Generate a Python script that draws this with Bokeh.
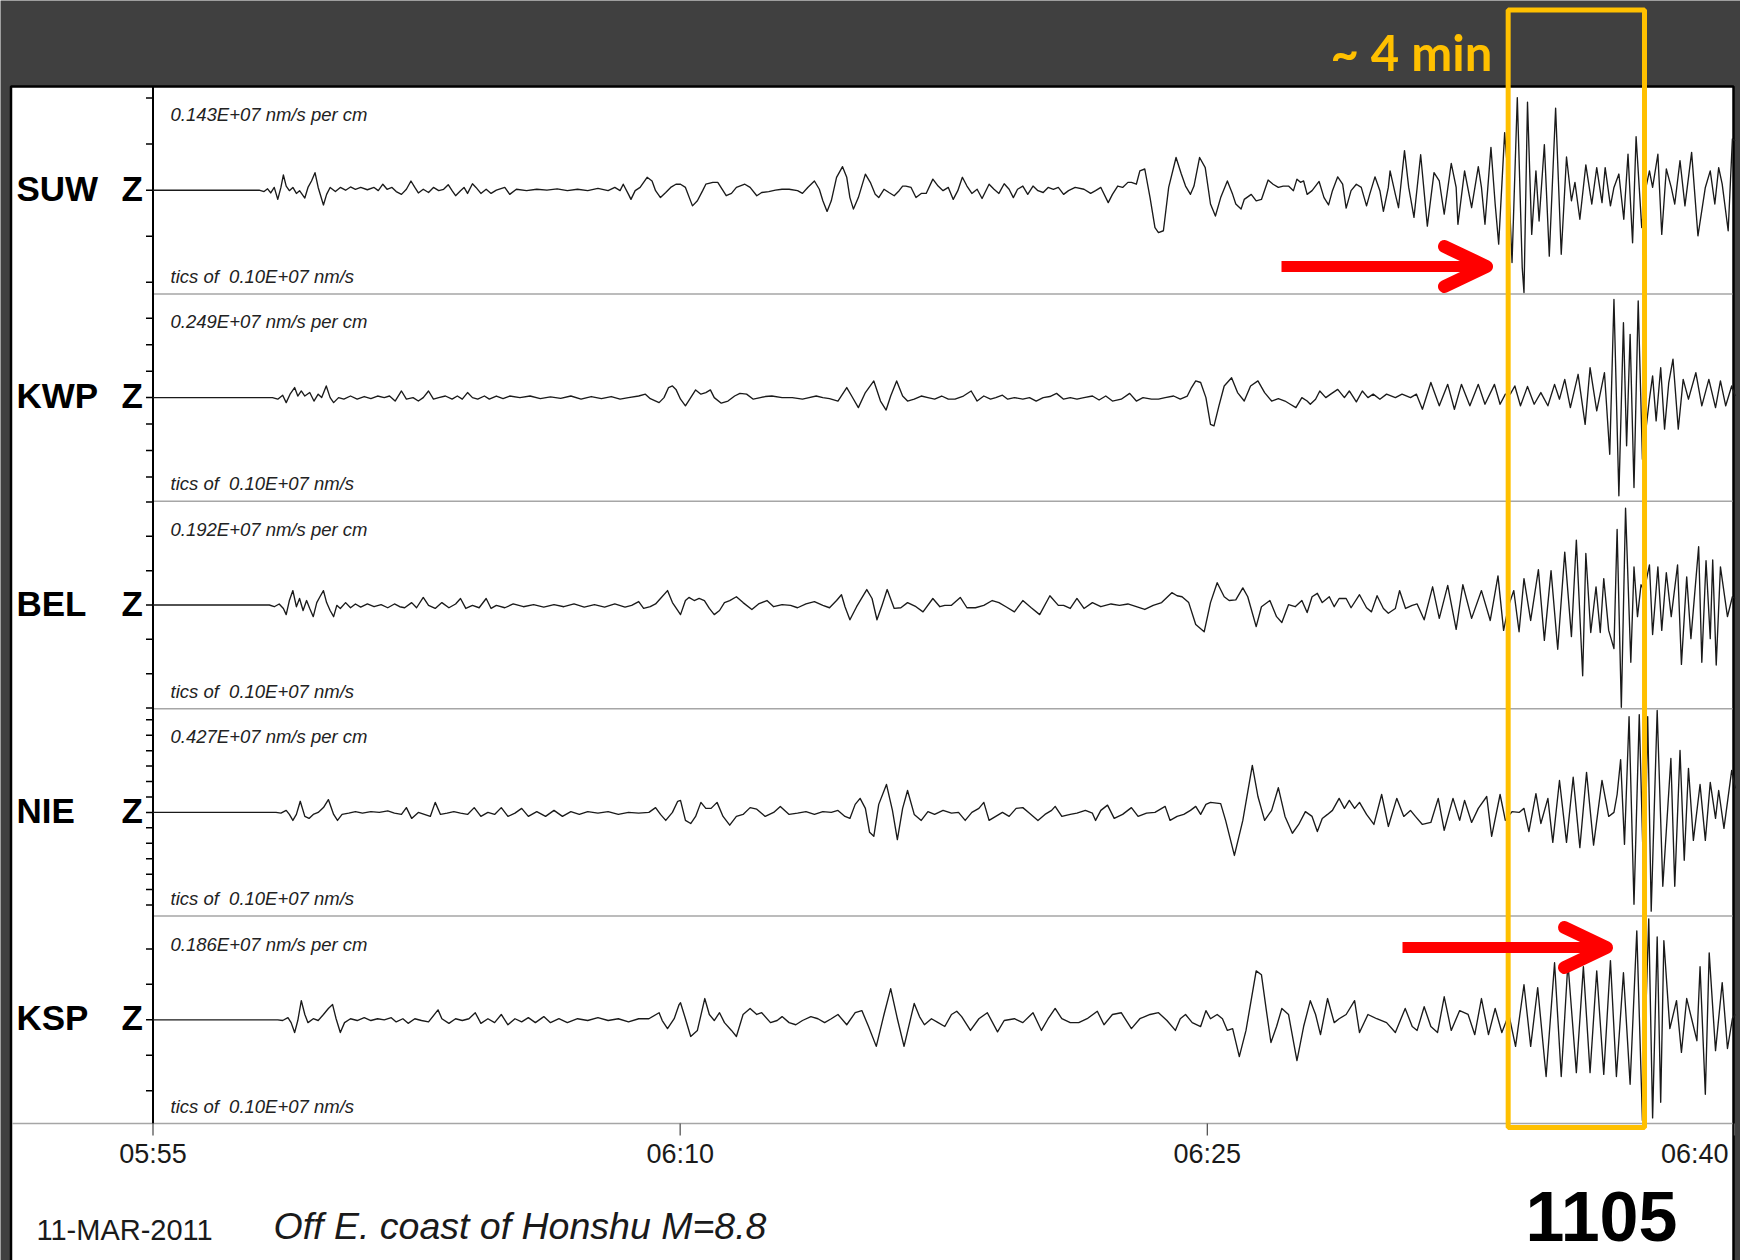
from bokeh.plotting import figure
from bokeh.models import Range1d
from bokeh.core.properties import value
from bokeh.embed import file_html
from bokeh.resources import INLINE

# ---------------------------------------------------------------- data
STATIONS = ["SUW", "KWP", "BEL", "NIE", "KSP"]
COMPONENT = "Z"
SCALE_NM_S_PER_CM = [0.143e7, 0.249e7, 0.192e7, 0.427e7, 0.186e7]
TIC_NM_S = 0.10e7
TIME_TICKS_MIN = [0, 15, 30, 45]            # minutes after 05:55
TIME_TICK_LABELS = ["05:55", "06:10", "06:25", "06:40"]
DATE_LABEL = "11-MAR-2011"
EVENT_LABEL = "Off E. coast of Honshu M=8.8"
EVENT_NUMBER = "1105"
WINDOW_MIN = [38.56, 42.44]                 # highlighted window (minutes after 05:55)
WINDOW_LABEL = "~ 4 min"

# traces: (minutes after 05:55, ground velocity in units of 1e6 nm/s)
SUW = [(0, 0),
    (3.02, 0), (3.16, -0.03), (3.26, 0.03), (3.35, -0.06), (3.45, 0.06), (3.55, -0.20), (3.64, 0.06), (3.71, 0.33),
    (3.79, 0.09), (3.88, -0.01), (3.98, 0.06), (4.08, -0.07), (4.17, -0.01), (4.32, -0.17), (4.41, 0.06), (4.51, 0.20),
    (4.61, 0.38), (4.70, 0.06), (4.85, -0.32), (4.94, -0.09), (5.04, 0.06), (5.19, -0.03), (5.33, 0.06), (5.48, 0),
    (5.62, 0.07), (5.76, 0.02), (5.91, 0.06), (6.10, 0.01), (6.29, 0.06), (6.41, -0.01), (6.54, 0.13), (6.66, 0.02),
    (6.80, 0.06), (6.92, -0.03), (7.07, -0.09), (7.21, 0.02), (7.34, 0.20), (7.45, 0.06), (7.55, -0.06), (7.69, 0.02),
    (7.84, -0.05), (7.98, 0.06), (8.13, -0.01), (8.27, 0.02), (8.40, 0.12), (8.51, -0.01), (8.61, -0.12), (8.75, -0.01),
    (8.85, 0.06), (8.95, -0.07), (9.09, 0.14), (9.19, 0.06), (9.33, -0.07), (9.48, 0.02), (9.62, -0.07), (9.77, 0),
    (10.01, 0.06), (10.15, -0.09), (10.34, 0.02), (10.63, -0.01), (10.92, 0.02), (11.21, 0), (11.50, 0.03),
    (11.79, -0.01), (12.08, 0.02), (12.37, -0.01), (12.66, 0.04), (12.95, -0.01), (13.14, 0.06), (13.29, -0.01),
    (13.38, 0.13), (13.53, -0.09), (13.60, -0.20), (13.72, -0.01), (13.86, 0.06), (14.06, 0.28), (14.20, 0.20),
    (14.30, -0.01), (14.44, -0.16), (14.59, -0.05), (14.73, 0.06), (14.88, 0.13),
    (15.01, 0.13), (15.15, 0.06), (15.35, -0.34), (15.49, -0.23), (15.64, -0.01), (15.73, 0.13), (15.93, 0.17),
    (16.07, 0.17), (16.22, -0.01), (16.31, -0.12), (16.46, -0.07), (16.60, 0.06), (16.84, 0.13), (16.99, 0.06),
    (17.18, -0.12), (17.32, -0.05), (17.52, -0.03), (17.71, 0), (17.90, 0.02), (18.10, 0.02), (18.34, -0.01),
    (18.48, -0.07), (18.63, 0.06), (18.82, 0.20), (18.96, 0.02), (19.06, -0.23), (19.18, -0.46), (19.30, -0.23),
    (19.45, 0.28), (19.62, 0.51), (19.74, 0.28), (19.83, -0.16), (19.93, -0.41), (20.07, -0.16), (20.27, 0.35),
    (20.41, 0.17), (20.55, -0.09), (20.65, -0.16), (20.80, 0.02), (20.94, -0.05), (21.09, -0.12), (21.23, -0.01),
    (21.33, 0.09), (21.42, 0.09), (21.57, 0.06), (21.71, -0.16), (21.86, -0.07), (22.00, -0.07), (22.19, 0.24),
    (22.34, 0.09), (22.48, -0.01), (22.63, 0.06), (22.77, -0.20), (22.90, -0.01), (23.03, 0.28), (23.16, 0.09),
    (23.30, -0.07), (23.45, 0.02), (23.59, -0.18), (23.79, 0.13), (23.93, 0.02), (24.07, -0.07), (24.22, 0.14),
    (24.36, 0.02), (24.48, -0.16), (24.60, 0.02), (24.75, 0.09), (24.89, -0.09), (25.04, 0.09), (25.18, -0.01),
    (25.33, -0.05), (25.47, 0.06), (25.62, 0.02), (25.76, 0.06), (25.91, -0.09), (26.05, -0.01), (26.24, 0.06),
    (26.49, 0.02), (26.68, -0.07), (26.82, -0.01), (26.97, 0.06), (27.18, -0.27), (27.30, -0.09), (27.45, 0.09),
    (27.59, 0.06), (27.74, 0.17), (27.84, 0.17), (27.98, 0.13), (28.08, 0.42), (28.22, 0.46), (28.37, -0.16),
    (28.51, -0.81), (28.61, -0.92), (28.75, -0.88), (28.90, 0.06), (29.11, 0.71), (29.26, 0.35), (29.38, 0.09),
    (29.52, -0.09), (29.62, 0.09), (29.78, 0.71), (29.94, 0.49),
    (30.09, -0.30), (30.23, -0.56), (30.38, -0.16), (30.57, 0.20), (30.72, -0.09), (30.81, -0.30), (30.96, -0.41),
    (31.05, -0.20), (31.25, -0.09), (31.39, -0.23), (31.54, -0.20), (31.73, 0.22), (31.87, 0.13), (32.02, 0.06),
    (32.16, 0.09), (32.31, 0.09), (32.45, -0.01), (32.55, 0.24), (32.65, 0.17), (32.74, 0.20), (32.84, -0.09),
    (32.98, -0.01), (33.18, 0.19), (33.32, -0.16), (33.45, -0.32), (33.56, -0.01), (33.71, 0.29), (33.85, 0.13),
    (33.95, -0.39), (34.09, -0.01), (34.24, 0.13), (34.38, 0.06), (34.53, -0.34), (34.62, -0.09), (34.77, 0.29),
    (34.91, -0.01), (35.01, -0.46), (35.15, 0.06), (35.20, 0.42), (35.35, -0.09), (35.44, -0.38), (35.61, 0.86),
    (35.73, 0.06), (35.88, -0.59), (36.07, 0.77), (36.26, -0.78), (36.45, 0.38), (36.60, 0.20), (36.74, -0.52),
    (36.94, 0.58), (37.08, 0.06), (37.13, -0.74), (37.32, 0.42), (37.52, -0.38), (37.71, 0.51), (37.80, 0.06),
    (37.90, -0.74), (38.07, 0.93), (38.19, -0.30), (38.29, -1.17), (38.46, 1.25), (38.58, 0.06), (38.67, -1.57),
    (38.82, 2.01), (38.96, -1.68), (39.01, -2.22), (39.11, 1.91), (39.23, -0.96), (39.35, 0.42), (39.44, -0.67),
    (39.59, 0.99), (39.73, -1.43), (39.91, 1.78), (40.07, -1.39), (40.22, 0.72), (40.36, -0.23), (40.46, 0.17),
    (40.60, -0.63), (40.77, 0.55), (40.94, -0.30), (41.08, 0.49), (41.23, -0.27), (41.32, 0.49), (41.47, -0.34),
    (41.57, 0.06), (41.71, 0.35), (41.85, -0.63), (41.97, 0.78), (42.10, -1.14), (42.20, 1.16), (42.36, -0.81),
    (42.48, 0.06), (42.58, 0.42), (42.67, 0.06), (42.82, 0.78), (42.93, -0.96), (43.06, 0.46), (43.20, 0.06),
    (43.30, -0.30), (43.45, 0.64), (43.59, -0.34), (43.78, 0.82), (43.96, -0.99), (44.17, 0.06), (44.31, 0.42),
    (44.44, -0.30), (44.55, 0.49), (44.65, 0.13), (44.82, -0.88), (44.94, 1.11), (45.02, 1.07)]

KWP = [(0, 0),
    (3.40, 0), (3.55, -0.06), (3.69, 0.09), (3.79, -0.19), (3.90, 0.13), (4.03, 0.38), (4.12, 0.06), (4.22, 0.25),
    (4.32, 0.06), (4.46, 0.19), (4.58, -0.13), (4.70, 0.13), (4.80, 0), (4.93, 0.44), (5.04, 0), (5.14, -0.19),
    (5.28, 0), (5.43, -0.06), (5.62, 0.06), (5.81, -0.06), (6.01, 0.04), (6.20, -0.04), (6.39, 0.06), (6.58, 0),
    (6.73, 0.06), (6.89, -0.13), (7.07, 0.25), (7.21, -0.06), (7.40, 0), (7.55, -0.13), (7.69, 0), (7.84, 0.25),
    (7.98, -0.06), (8.13, 0), (8.32, 0.06), (8.51, -0.06), (8.66, 0.06), (8.80, -0.06), (8.95, 0.19), (9.09, 0),
    (9.24, -0.06), (9.43, 0.06), (9.57, -0.06), (9.77, 0.06), (9.96, -0.04), (10.15, 0.06), (10.44, 0),
    (10.73, 0.06), (11.02, -0.04), (11.31, 0.03), (11.60, -0.03), (11.89, 0.06), (12.18, -0.06), (12.47, 0.04),
    (12.76, -0.04), (13.04, 0.04), (13.29, -0.06), (13.53, 0), (13.82, 0.06), (14.01, 0.13), (14.15, -0.04),
    (14.40, -0.19), (14.54, 0), (14.67, 0.38), (14.78, 0.44), (14.88, 0.31),
    (15.01, -0.06), (15.15, -0.31), (15.30, 0), (15.44, 0.29), (15.59, 0.13), (15.73, 0.19), (15.86, 0.29),
    (15.97, 0), (16.17, -0.21), (16.36, -0.13), (16.55, 0.06), (16.70, 0.16), (16.89, 0.13), (17.08, -0.06),
    (17.28, 0), (17.42, 0.04), (17.61, 0.06), (17.90, 0), (18.19, 0), (18.48, -0.06), (18.67, 0), (18.87, 0.06),
    (19.06, 0), (19.25, -0.04), (19.49, -0.13), (19.74, 0.38), (19.88, 0.06), (20.07, -0.38), (20.27, 0.19),
    (20.51, 0.63), (20.70, -0.13), (20.86, -0.47), (20.99, 0.06), (21.16, 0.63), (21.33, 0.06), (21.47, -0.13),
    (21.66, -0.06), (21.86, 0.06), (22.05, 0), (22.24, -0.06), (22.44, 0.06), (22.63, -0.06), (22.82, -0.06),
    (23.06, 0.06), (23.28, 0.25), (23.45, -0.13), (23.64, 0.06), (23.83, -0.06), (23.98, 0), (24.17, 0.09),
    (24.32, -0.06), (24.51, 0), (24.75, -0.06), (24.94, 0), (25.13, -0.13), (25.33, 0), (25.52, 0.04),
    (25.71, 0.16), (25.91, -0.06), (26.10, 0), (26.29, -0.06), (26.49, 0), (26.73, 0.06), (26.92, -0.09),
    (27.11, 0.06), (27.30, -0.13), (27.55, -0.06), (27.79, 0.16), (27.98, -0.13), (28.17, 0), (28.41, -0.06),
    (28.61, -0.06), (28.80, 0), (29.04, 0.06), (29.23, -0.06), (29.43, 0.06), (29.55, 0.38), (29.67, 0.63),
    (29.81, 0.57), (29.96, 0),
    (30.09, -1.01), (30.19, -1.07), (30.33, -0.31), (30.48, 0.44), (30.69, 0.75), (30.86, 0.19), (31.05, -0.13),
    (31.23, 0.44), (31.44, 0.63), (31.63, 0.19), (31.83, -0.13), (32.02, -0.04), (32.21, -0.13), (32.36, -0.25),
    (32.52, -0.38), (32.69, 0), (32.84, -0.13), (32.93, -0.25), (33.08, -0.06), (33.20, 0.25), (33.37, 0),
    (33.51, 0.13), (33.71, 0.31), (33.90, 0), (34.04, 0.25), (34.24, -0.16), (34.41, 0.25), (34.57, 0),
    (34.72, 0.13), (34.91, -0.06), (35.10, 0.13), (35.35, 0), (35.54, 0.13), (35.78, 0), (35.95, 0.13),
    (36.12, -0.44), (36.36, 0.57), (36.60, -0.31), (36.84, 0.50), (37.03, -0.44), (37.23, 0.50), (37.47, -0.31),
    (37.71, 0.50), (37.90, -0.25), (38.17, 0.50), (38.33, -0.25), (38.48, 0.13), (38.62, 0.13), (38.75, 0.44),
    (38.91, -0.31), (39.11, 0.42), (39.30, -0.25), (39.49, 0.19), (39.69, -0.31), (39.88, 0.50), (40.02, -0.06),
    (40.17, 0.69), (40.33, -0.38), (40.55, 0.88), (40.75, -1.01), (40.89, 1.13), (41.08, -0.50), (41.30, 0.94),
    (41.45, -2.14), (41.57, 3.71), (41.71, -3.71), (41.84, 2.83), (41.93, -1.82), (42.03, 2.39), (42.14, -3.40),
    (42.26, 3.65), (42.38, -2.33), (42.58, -0.06), (42.67, 0.82), (42.77, -0.88), (42.90, 1.13), (43.01, -1.19),
    (43.13, 0.57), (43.25, 1.45), (43.40, -1.19), (43.54, 0.69), (43.69, -0.06), (43.90, 0.94), (44.07, -0.31),
    (44.27, 0.69), (44.46, -0.38), (44.60, 0.63), (44.75, -0.31), (44.92, 0.44), (45.02, 0.06)]

BEL = [(0, 0),
    (3.31, 0), (3.45, -0.05), (3.59, 0.03), (3.71, -0.10), (3.79, -0.28), (3.88, 0.13), (3.98, 0.42), (4.08, -0.05),
    (4.17, 0.19), (4.27, -0.16), (4.37, 0.13), (4.46, -0.10), (4.56, -0.34), (4.66, 0.07), (4.75, 0.24), (4.85, 0.42),
    (4.94, 0.07), (5.04, -0.16), (5.14, -0.34), (5.23, -0.01), (5.33, -0.10), (5.48, 0.07), (5.62, -0.08),
    (5.76, 0.03), (5.91, -0.06), (6.10, 0.03), (6.29, -0.05), (6.49, 0.01), (6.68, -0.08), (6.87, 0.03),
    (7.02, -0.05), (7.16, -0.08), (7.36, 0.07), (7.50, -0.08), (7.69, 0.22), (7.84, -0.01), (8.03, -0.10),
    (8.22, 0.07), (8.42, -0.08), (8.61, 0.03), (8.75, 0.19), (8.90, -0.10), (9.09, -0.01), (9.28, -0.08),
    (9.48, 0.19), (9.62, -0.10), (9.77, -0.01), (10.01, -0.08), (10.25, 0.03), (10.54, -0.05), (10.83, 0.01),
    (11.12, -0.06), (11.41, 0.01), (11.69, -0.05), (11.98, 0.03), (12.27, -0.06), (12.56, 0.01), (12.85, -0.06),
    (13.14, 0.03), (13.43, -0.06), (13.62, -0.01), (13.82, 0.10), (13.96, -0.10), (14.15, -0.05), (14.30, 0.03),
    (14.44, 0.19), (14.64, 0.42), (14.78, 0.07), (14.93, -0.16),
    (15.01, -0.28), (15.15, 0.13), (15.25, 0.22), (15.40, 0.13), (15.54, 0.19), (15.69, 0.13), (15.83, -0.10),
    (15.97, -0.28), (16.12, -0.16), (16.26, 0.07), (16.41, 0.13), (16.60, 0.24), (16.79, 0.07), (17.04, -0.13),
    (17.23, 0.03), (17.47, 0.13), (17.66, -0.05), (17.90, 0.01), (18.14, -0.01), (18.34, -0.08), (18.58, 0.03),
    (18.82, 0.10), (19.06, -0.01), (19.25, -0.08), (19.45, 0.13), (19.59, 0.30), (19.69, -0.05), (19.83, -0.43),
    (20.02, -0.05), (20.31, 0.45), (20.46, 0.19), (20.60, -0.43), (20.75, 0.01), (20.89, 0.45), (21.09, -0.10),
    (21.28, -0.08), (21.47, 0.07), (21.71, -0.05), (21.91, -0.20), (22.19, 0.19), (22.39, -0.05), (22.53, -0.01),
    (22.72, -0.01), (22.97, 0.22), (23.16, -0.08), (23.40, -0.08), (23.64, -0.01), (23.88, 0.13), (24.07, 0.07),
    (24.27, -0.05), (24.51, -0.20), (24.75, 0.13), (24.99, -0.08), (25.23, -0.28), (25.52, 0.27), (25.76, -0.01),
    (25.91, -0.01), (26.10, -0.10), (26.29, 0.19), (26.49, -0.10), (26.73, 0.07), (26.97, -0.05), (27.26, 0.03),
    (27.50, -0.01), (27.74, 0.03), (27.98, -0.05), (28.22, -0.13), (28.46, -0.01), (28.70, 0.07), (28.99, 0.36),
    (29.14, 0.27), (29.28, 0.24), (29.47, 0.07), (29.67, -0.57), (29.91, -0.78),
    (30.09, 0.07), (30.28, 0.65), (30.48, 0.24), (30.62, 0.13), (30.81, 0.15), (31.01, 0.50), (31.15, 0.24),
    (31.39, -0.63), (31.54, -0.05), (31.78, 0.13), (31.97, -0.34), (32.12, -0.51), (32.31, 0.01), (32.50, -0.05),
    (32.69, 0.13), (32.84, -0.22), (32.98, 0.24), (33.13, 0.34), (33.27, 0.07), (33.47, 0.24), (33.61, -0.05),
    (33.75, 0.19), (33.95, 0.19), (34.09, -0.08), (34.33, 0.30), (34.53, -0.08), (34.67, -0.20), (34.83, 0.27),
    (35.01, -0.10), (35.15, -0.24), (35.35, -0.10), (35.47, 0.42), (35.64, -0.10), (35.83, -0.01), (35.97, 0.03),
    (36.17, -0.43), (36.41, 0.53), (36.60, -0.39), (36.84, 0.57), (37.08, -0.71), (37.27, 0.59), (37.52, -0.39),
    (37.80, 0.42), (38.05, -0.45), (38.27, 0.85), (38.43, -0.74), (38.58, 0.01), (38.72, 0.42), (38.87, -0.78),
    (39.01, 0.77), (39.20, -0.45), (39.42, 1.03), (39.59, -1.03), (39.78, 1.00), (39.97, -1.29), (40.17, 1.54),
    (40.36, -0.92), (40.50, 1.89), (40.68, -2.06), (40.77, 1.50), (40.91, -0.80), (41.06, 0.53), (41.18, -0.80),
    (41.28, 0.77), (41.42, -0.74), (41.57, -1.27), (41.66, 2.20), (41.78, -2.98), (41.90, 2.82), (42.05, -1.67),
    (42.14, 1.11), (42.24, -0.34), (42.34, 0.59), (42.43, 0.42), (42.58, 1.17), (42.67, -0.86), (42.82, 1.11),
    (42.93, -0.74), (43.06, 0.94), (43.20, -0.34), (43.38, 1.17), (43.49, -1.73), (43.64, 0.82), (43.76, -0.98),
    (43.98, 1.70), (44.07, -1.67), (44.19, 1.29), (44.31, -0.98), (44.38, 1.31), (44.48, -1.75), (44.60, 1.11),
    (44.80, -0.34), (44.94, 0.24), (45.02, 0.19)]

NIE = [(0, 0),
    (3.50, 0), (3.64, -0.05), (3.79, 0.13), (3.88, -0.13), (3.98, -0.52), (4.08, -0.13), (4.19, 0.72), (4.32, -0.26),
    (4.44, -0.39), (4.56, -0.13), (4.70, 0), (4.85, 0.31), (4.99, 0.83), (5.14, -0.13), (5.25, -0.52), (5.38, -0.13),
    (5.57, -0.05), (5.76, 0.05), (5.96, -0.05), (6.20, 0.05), (6.44, 0), (6.68, 0.10), (6.87, -0.05), (7.07, -0.13),
    (7.21, 0.31), (7.36, -0.39), (7.55, 0), (7.72, -0.13), (7.89, -0.26), (8.03, 0.65), (8.18, -0.13), (8.37, -0.05),
    (8.56, 0.05), (8.75, -0.05), (8.95, -0.13), (9.14, 0.31), (9.33, -0.26), (9.53, 0), (9.72, -0.13), (9.91, 0.31),
    (10.10, -0.26), (10.30, -0.05), (10.49, 0.26), (10.68, -0.26), (10.92, 0.05), (11.17, -0.26), (11.41, 0.13),
    (11.65, -0.26), (11.89, 0.05), (12.13, -0.13), (12.37, 0.05), (12.66, -0.05), (12.95, 0.05), (13.24, -0.13),
    (13.53, 0), (13.82, -0.05), (14.11, 0), (14.30, 0.31), (14.44, -0.13), (14.59, -0.52), (14.78, 0),
    (14.93, 0.72),
    (15.01, 0.78), (15.15, -0.52), (15.30, -0.72), (15.44, -0.26), (15.59, 0.65), (15.73, 0.26), (15.88, 0.26),
    (16.05, 0.65), (16.22, -0.26), (16.41, -0.83), (16.60, -0.26), (16.79, -0.13), (16.99, 0.31), (17.18, 0.21),
    (17.42, -0.26), (17.66, 0), (17.85, 0.39), (18.10, -0.13), (18.34, -0.05), (18.58, 0.05), (18.82, -0.13),
    (19.06, 0.05), (19.30, 0), (19.49, 0.13), (19.69, -0.26), (19.83, -0.39), (19.98, 0.52), (20.12, 0.91),
    (20.27, 0.26), (20.39, -1.29), (20.51, -1.55), (20.65, 0.52), (20.87, 1.81), (21.04, 0.13), (21.18, -1.76),
    (21.33, 0.26), (21.47, 1.42), (21.66, -0.13), (21.86, -0.52), (22.05, 0.05), (22.24, -0.13), (22.48, 0.13),
    (22.72, -0.05), (22.92, 0), (23.11, -0.52), (23.30, 0), (23.50, 0.26), (23.64, 0.65), (23.79, -0.52),
    (23.98, -0.26), (24.17, 0), (24.36, -0.26), (24.56, 0.26), (24.75, 0.31), (24.94, -0.05), (25.18, -0.52),
    (25.38, -0.13), (25.57, 0.13), (25.67, 0.39), (25.86, -0.26), (26.10, -0.13), (26.29, -0.05), (26.53, 0.13),
    (26.73, -0.05), (26.82, -0.52), (26.97, 0.13), (27.16, 0.47), (27.35, -0.39), (27.59, -0.13), (27.84, 0.31),
    (28.03, -0.26), (28.27, -0.05), (28.51, 0), (28.80, 0.39), (28.94, -0.52), (29.14, -0.26), (29.33, -0.13),
    (29.52, 0.13), (29.67, 0.39), (29.81, -0.13), (29.96, 0.52),
    (30.09, 0.65), (30.38, 0.57), (30.52, -0.52), (30.77, -2.79), (31.01, -0.52), (31.28, 3.05), (31.44, 1.03),
    (31.63, -0.52), (31.83, 0.13), (32.02, 1.60), (32.21, -0.26), (32.42, -1.35), (32.60, -0.78), (32.79, 0.05),
    (32.98, -0.26), (33.13, -1.24), (33.27, -0.39), (33.42, -0.13), (33.56, 0.13), (33.75, 0.91), (33.90, 0.26),
    (34.04, 0.78), (34.19, 0.26), (34.33, 0.65), (34.53, -0.13), (34.74, -0.78), (34.96, 1.16), (35.15, -0.91),
    (35.39, 0.91), (35.59, -0.26), (35.78, 0.13), (35.92, -0.26), (36.12, -0.78), (36.36, -0.65), (36.57, 0.91),
    (36.74, -1.16), (36.99, 0.91), (37.18, -0.52), (37.32, 0.78), (37.52, -0.65), (37.71, 0.26), (37.95, 1.03),
    (38.09, -1.55), (38.33, 1.16), (38.48, -0.52), (38.67, 0.05), (38.87, 0), (39.01, 0.26), (39.15, -1.24),
    (39.35, 1.22), (39.49, -0.72), (39.69, 0.91), (39.83, -1.94), (40.02, 2.07), (40.22, -1.94), (40.41, 2.28),
    (40.60, -2.28), (40.79, 2.59), (40.99, -2.12), (41.23, 2.07), (41.42, -0.26), (41.57, 0), (41.66, 1.16),
    (41.76, 3.42), (41.87, -2.07), (42.00, 6.21), (42.14, -5.95), (42.29, 6.34), (42.43, -5.69), (42.53, 6.21),
    (42.63, -6.40), (42.80, 6.60), (42.96, -4.79), (43.19, 3.49), (43.30, -4.79), (43.45, 4.01), (43.57, -3.10),
    (43.69, 2.85), (43.83, -1.81), (44.02, 1.81), (44.17, -1.81), (44.31, 1.94), (44.46, -0.39), (44.55, 1.42),
    (44.70, -1.03), (44.92, 2.72), (45.02, 1.55)]

KSP = [(0, 0),
    (3.55, 0), (3.69, -0.02), (3.84, 0.06), (3.93, -0.08), (4.03, -0.36), (4.12, -0.02), (4.22, 0.54), (4.32, 0.15),
    (4.41, -0.08), (4.56, 0.03), (4.70, -0.02), (4.85, 0.15), (4.99, 0.32), (5.11, 0.43), (5.21, 0.03), (5.33, -0.36),
    (5.45, -0.08), (5.62, 0.03), (5.81, -0.02), (6.01, 0.06), (6.20, -0.02), (6.39, 0.03), (6.58, 0), (6.78, 0.06),
    (6.92, -0.06), (7.11, 0.03), (7.26, -0.10), (7.45, 0.03), (7.64, -0.02), (7.84, -0.06), (8.11, 0.28),
    (8.22, 0.03), (8.42, -0.10), (8.61, 0.03), (8.80, -0.02), (8.99, 0.03), (9.17, 0.20), (9.33, -0.10),
    (9.53, 0.03), (9.72, -0.08), (9.91, 0.15), (10.10, -0.14), (10.30, 0.03), (10.49, -0.06), (10.68, 0.06),
    (10.88, -0.08), (11.12, 0.09), (11.31, -0.08), (11.55, 0.03), (11.79, -0.08), (12.08, 0.03), (12.37, -0.02),
    (12.66, 0.06), (12.95, -0.02), (13.24, 0.03), (13.53, -0.06), (13.82, 0.03), (14.11, 0.03), (14.40, 0.20),
    (14.49, -0.02), (14.64, -0.25), (14.83, 0.03), (14.97, 0.43),
    (15.01, 0.48), (15.15, 0.03), (15.30, -0.47), (15.49, -0.30), (15.70, 0.60), (15.83, 0.15), (15.97, -0.02),
    (16.12, 0.20), (16.26, -0.08), (16.46, -0.30), (16.60, -0.47), (16.79, 0.15), (16.99, 0.32), (17.18, 0.15),
    (17.32, 0.20), (17.57, -0.08), (17.76, -0.02), (17.90, 0.09), (18.10, -0.08), (18.29, -0.14), (18.48, -0.02),
    (18.72, 0.09), (18.92, 0.03), (19.11, -0.08), (19.30, 0.03), (19.49, 0.15), (19.74, -0.14), (19.98, 0.20),
    (20.17, 0.26), (20.36, -0.19), (20.58, -0.75), (20.80, 0.15), (20.99, 0.88), (21.18, 0.03), (21.37, -0.75),
    (21.57, 0.09), (21.66, 0.46), (21.81, 0.09), (21.95, -0.14), (22.15, 0.03), (22.34, -0.08), (22.53, -0.19),
    (22.72, 0.15), (22.87, 0.24), (23.01, 0.09), (23.26, -0.30), (23.50, 0.03), (23.74, 0.20), (24.03, -0.34),
    (24.22, -0.02), (24.51, 0.03), (24.75, -0.08), (25.04, 0.20), (25.28, -0.30), (25.47, 0.03), (25.67, 0.32),
    (25.86, 0.03), (26.10, -0.08), (26.34, -0.08), (26.58, 0.03), (26.87, 0.24), (27.06, -0.14), (27.30, 0.15),
    (27.55, 0.20), (27.84, -0.25), (28.08, 0.03), (28.37, 0.15), (28.61, 0.20), (28.85, -0.02), (29.09, -0.30),
    (29.23, 0.03), (29.38, 0.15), (29.57, -0.08), (29.81, -0.19), (29.96, 0.26),
    (30.09, 0.03), (30.28, 0.15), (30.43, 0.03), (30.57, -0.30), (30.72, -0.25), (30.91, -1.04), (31.10, -0.30),
    (31.39, 1.38), (31.54, 1.27), (31.68, 0.26), (31.81, -0.64), (31.97, -0.19), (32.12, 0.32), (32.31, 0.15),
    (32.55, -1.15), (32.74, -0.19), (32.93, 0.54), (33.08, 0.15), (33.22, -0.42), (33.42, 0.60), (33.61, -0.08),
    (33.75, 0.03), (33.95, 0.15), (34.19, 0.54), (34.33, -0.36), (34.57, 0.15), (34.82, 0.03), (35.10, -0.08),
    (35.35, -0.36), (35.63, 0.32), (35.83, -0.19), (35.97, -0.30), (36.17, 0.37), (36.36, -0.19), (36.55, -0.36),
    (36.74, 0.65), (36.94, -0.30), (37.18, 0.26), (37.42, 0.15), (37.61, -0.42), (37.80, 0.60), (38.00, -0.42),
    (38.19, 0.32), (38.38, -0.36), (38.58, 0.15), (38.77, -0.75), (39.01, 0.99), (39.20, -0.75), (39.40, 0.91),
    (39.64, -1.60), (39.88, 1.61), (40.07, -1.60), (40.26, 1.61), (40.50, -1.49), (40.70, 1.50), (40.89, -1.49),
    (41.08, 1.38), (41.28, -1.54), (41.47, 1.67), (41.64, -1.60), (41.84, 1.33), (42.03, -1.82), (42.22, 2.51),
    (42.38, -2.84), (42.56, 2.85), (42.67, -2.77), (42.80, 2.34), (42.90, -2.33), (42.99, 2.23), (43.16, -0.25),
    (43.35, 0.54), (43.49, -0.92), (43.64, 0.60), (43.78, 0.03), (43.93, -0.59), (44.02, 1.50), (44.17, -2.10),
    (44.28, 1.89), (44.46, -0.87), (44.65, 1.05), (44.80, -0.81), (44.94, 0.03), (45.02, 0.15)]

TRACES = [SUW, KWP, BEL, NIE, KSP]

# ---------------------------------------------------------------- layout (page pixels)
W, H = 1740, 1260
X0 = 152.5                        # page x of the first time tick
PX_PER_MIN = (1734.0 - X0) / 45.0
PLOT_TOP, PLOT_BOTTOM = 86.0, 1123.0
PANEL_H = (PLOT_BOTTOM - PLOT_TOP) / len(STATIONS)
PX_PER_CM = 65.9
PANEL_RIGHT = 1733.0
FONT = value("Liberation Sans")
INK = "#1a1a1a"
GOLD = "#FFC000"
RED = "#FF0000"

p = figure(width=W, height=H,
           x_range=Range1d(0, W), y_range=Range1d(H, 0),
           x_axis_location=None, y_axis_location=None,
           output_backend="svg", toolbar_location=None, min_border=0,
           background_fill_color="#404040", border_fill_color="#404040",
           outline_line_color=None)
p.xgrid.grid_line_color = None
p.ygrid.grid_line_color = None

t_range = Range1d((0 - X0) / PX_PER_MIN, (W - X0) / PX_PER_MIN)
yr = {}
geo = []
for i, (name, scale) in enumerate(zip(STATIONS, SCALE_NM_S_PER_CM)):
    top = PLOT_TOP + i * PANEL_H
    base = top + PANEL_H / 2.0
    px_per_nm = PX_PER_CM / scale
    yr["amp_" + name] = Range1d((base - H) / px_per_nm, (base - 0) / px_per_nm)
    geo.append((top, base, px_per_nm))
p.extra_x_ranges = {"time": t_range}
p.extra_y_ranges = yr

# white record sheet with black frame
p.quad(left=10.5, right=PANEL_RIGHT, top=PLOT_TOP, bottom=H + 20,
       fill_color="white", line_color="black", line_width=2.5)

# panel separators and bottom (time) line
seps = [PLOT_TOP + k * PANEL_H for k in range(1, len(STATIONS))]
p.segment(x0=[X0] * len(seps), y0=seps, x1=[PANEL_RIGHT - 1] * len(seps), y1=seps,
          line_color="#a6a6a6", line_width=1.5)
p.segment(x0=[11.5], y0=[PLOT_BOTTOM], x1=[PANEL_RIGHT - 1], y1=[PLOT_BOTTOM],
          line_color="#a6a6a6", line_width=1.5)
# vertical amplitude axis line
p.segment(x0=[X0], y0=[PLOT_TOP], x1=[X0], y1=[PLOT_BOTTOM], line_color="black", line_width=2)

# time ticks and labels
p.segment(x0=TIME_TICKS_MIN, y0=[PLOT_BOTTOM] * 4, x1=TIME_TICKS_MIN, y1=[PLOT_BOTTOM + 12] * 4,
          x_range_name="time", line_color="#555555", line_width=1.3)
p.text(x=TIME_TICKS_MIN[:-1], y=[1153] * 3, text=TIME_TICK_LABELS[:-1], x_range_name="time",
       text_font=FONT, text_font_size="27px", text_color=INK, text_align="center", text_baseline="middle")
p.text(x=TIME_TICKS_MIN[-1:], y=[1153], text=TIME_TICK_LABELS[-1:], x_range_name="time", x_offset=-6,
       text_font=FONT, text_font_size="27px", text_color=INK, text_align="right", text_baseline="middle")

for i, (name, scale, tr) in enumerate(zip(STATIONS, SCALE_NM_S_PER_CM, TRACES)):
    top, base, px_per_nm = geo[i]
    rname = "amp_" + name
    kmax = int(104.0 / (TIC_NM_S * px_per_nm))
    ticks = [k * TIC_NM_S for k in range(-kmax, kmax + 1)]
    p.segment(x0=[X0 - 7] * len(ticks), y0=ticks, x1=[X0] * len(ticks), y1=ticks,
              y_range_name=rname, line_color="black", line_width=1.5)
    ts = [pt[0] for pt in tr]
    vs = [pt[1] * 1e6 for pt in tr]
    p.line(ts, vs, x_range_name="time", y_range_name=rname,
           line_color=INK, line_width=1.35, line_join="round")
    p.text(x=[170], y=[top + 28], text=["%.3fE+07 nm/s per cm" % (scale / 1e7)],
           text_font=FONT, text_font_style="italic", text_font_size="18.5px", text_color="#222222",
           text_baseline="middle")
    p.text(x=[170], y=[top + 190], text=["tics of \u00a0%.2fE+07 nm/s" % (TIC_NM_S / 1e7)],
           text_font=FONT, text_font_style="italic", text_font_size="18.5px", text_color="#222222",
           text_baseline="middle")
    p.text(x=[16], y=[base - 2], text=[name], text_font=FONT, text_font_style="bold",
           text_font_size="35px", text_color="black", text_baseline="middle")
    p.text(x=[121], y=[base - 2], text=[COMPONENT], text_font=FONT, text_font_style="bold",
           text_font_size="35px", text_color="black", text_baseline="middle")

# footer texts
p.text(x=[36], y=[1229], text=[DATE_LABEL], text_font=FONT, text_font_size="29px",
       text_color=INK, text_baseline="middle")
p.text(x=[273], y=[1225], text=[EVENT_LABEL], text_font=FONT, text_font_style="italic",
       text_font_size="37.5px", text_color=INK, text_baseline="middle")
p.text(x=[1601], y=[1216], text=[EVENT_NUMBER], text_font=FONT, text_font_style="bold",
       text_font_size="70px", text_color="black", text_align="center", text_baseline="middle")

# highlighted window
p.quad(left=[WINDOW_MIN[0]], right=[WINDOW_MIN[1]], top=[9.5], bottom=[1127], x_range_name="time",
       fill_color=None, line_color=GOLD, line_width=5)
p.text(x=[1330], y=[51], text=[WINDOW_LABEL], text_font=value("Lato"), text_font_style="bold",
       text_font_size="49px", text_color=GOLD, text_baseline="middle")

# red arrows
for (xs, xe, yc) in [(1281, 1482, 266), (1402, 1602, 947)]:
    p.segment(x0=[xs], y0=[yc], x1=[xe], y1=[yc], line_color=RED, line_width=11, line_cap="butt")
    tip = xe + 4
    p.line([tip - 42, tip, tip - 42], [yc - 20, yc, yc + 20], line_color=RED, line_width=13,
           line_cap="round", line_join="round")

open("out.html", "w").write(file_html(p, INLINE))
